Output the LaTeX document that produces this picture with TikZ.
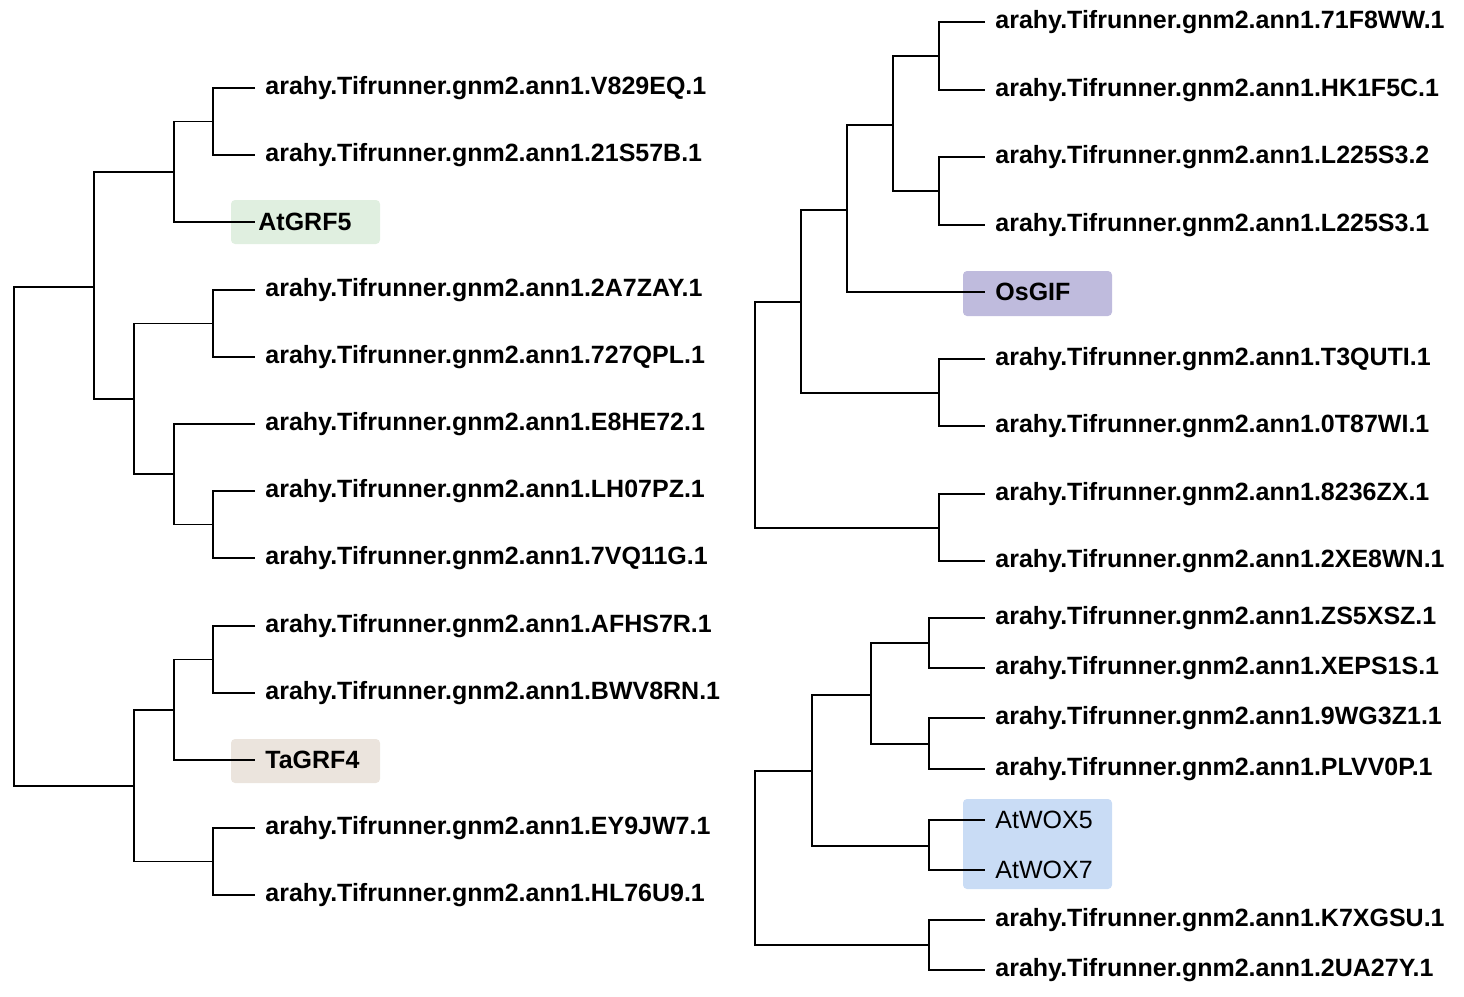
\documentclass[tikz,border=0pt]{standalone}
\usepackage{fontspec}
\setmainfont{Liberation Sans}
\usetikzlibrary{calc}
\definecolor{grfgreen}{HTML}{E0EFE0}
\definecolor{grfbrown}{HTML}{EBE4DD}
\definecolor{gifpurple}{HTML}{BFBBDD}
\definecolor{woxblue}{HTML}{C9DCF5}
\tikzset{
  leaf/.style={anchor=west, inner xsep=5pt, inner ysep=0pt, font=\fontsize{12.5}{14}\selectfont\bfseries},
  plainleaf/.style={leaf, font=\fontsize{12.5}{14}\selectfont},
  branch/.style={draw=black, line width=0.75pt},
  hibox/.style={rounded corners=2pt}
}
\begin{document}
\begin{tikzpicture}[x=0.5pt, y=-0.5pt]
  \useasboundingbox (0,0) rectangle (1464,997);
  % highlight boxes
  \fill[grfgreen, hibox] (231,200) rectangle (380,244);
  \fill[grfbrown, hibox] (231,739) rectangle (380,783);
  \fill[gifpurple, hibox] (963,271) rectangle (1112,316);
  \fill[woxblue, hibox] (963,799) rectangle (1112,889);

  % left tree leaves
  \foreach \name/\y/\txt in {V/88/V829EQ.1, S/155/21S57B.1, Z/290/2A7ZAY.1, Q/357/727QPL.1,
      E/424/E8HE72.1, L/491/LH07PZ.1, G/558/7VQ11G.1, A/626/AFHS7R.1, B/693/BWV8RN.1,
      Y/828/EY9JW7.1, H/895/HL76U9.1} {
    \node[leaf] (l\name) at (255,\y) {arahy.Tifrunner.gnm2.ann1.\txt};
  }
  \node[leaf, inner xsep=1.5pt] (lgrf5) at (255,222) {AtGRF5};
  \node[leaf] (lgrf4) at (255,760) {TaGRF4};

  % left tree inner nodes
  \coordinate (a1) at (213,121.5);
  \coordinate (a2) at (174,172);
  \coordinate (a3) at (213,323.5);
  \coordinate (a4) at (213,524.5);
  \coordinate (a5) at (174,474);
  \coordinate (a6) at (134,399);
  \coordinate (a7) at (94,287);
  \coordinate (a8) at (213,659.5);
  \coordinate (a9) at (174,710);
  \coordinate (a10) at (213,861.5);
  \coordinate (a11) at (134,786);
  \coordinate (a0) at (14,537);

  \draw[branch] (lV.west) -| (a1) |- (lS.west);
  \draw[branch] (a1) -| (a2) |- (lgrf5.west);
  \draw[branch] (lZ.west) -| (a3) |- (lQ.west);
  \draw[branch] (lL.west) -| (a4) |- (lG.west);
  \draw[branch] (lE.west) -| (a5) |- (a4);
  \draw[branch] (a3) -| (a6) |- (a5);
  \draw[branch] (a2) -| (a7) |- (a6);
  \draw[branch] (lA.west) -| (a8) |- (lB.west);
  \draw[branch] (a8) -| (a9) |- (lgrf4.west);
  \draw[branch] (lY.west) -| (a10) |- (lH.west);
  \draw[branch] (a9) -| (a11) |- (a10);
  \draw[branch] (a7) -| (a0) |- (a11);

  % right tree leaves
  \foreach \name/\y/\txt in {W/22/71F8WW.1, K/90/HK1F5C.1, Tb/157/L225S3.2, Ta/225/L225S3.1,
      U/359/T3QUTI.1, I/426/0T87WI.1, X/494/8236ZX.1, N/561/2XE8WN.1,
      Z/618/ZS5XSZ.1, P/668/XEPS1S.1, G/718/9WG3Z1.1, V/769/PLVV0P.1,
      K7/920/K7XGSU.1, U2/970/2UA27Y.1} {
    \node[leaf] (r\name) at (985,\y) {arahy.Tifrunner.gnm2.ann1.\txt};
  }
  \node[leaf] (rgif) at (985,292) {OsGIF};
  \node[plainleaf] (rwox5) at (985,820) {AtWOX5};
  \node[plainleaf] (rwox7) at (985,870) {AtWOX7};

  % right tree inner nodes
  \coordinate (b1) at (939,56);
  \coordinate (b2) at (939,191);
  \coordinate (b3) at (893,125);
  \coordinate (b4) at (847,210);
  \coordinate (b5) at (939,393);
  \coordinate (b6) at (801,302);
  \coordinate (b7) at (939,528);
  \coordinate (b8) at (755,415);
  \coordinate (c1) at (929,643);
  \coordinate (c2) at (929,744);
  \coordinate (c3) at (871,695);
  \coordinate (c4) at (929,846);
  \coordinate (c5) at (812,771);
  \coordinate (c6) at (929,945);
  \coordinate (c7) at (755,858);

  \draw[branch] (rW.west) -| (b1) |- (rK.west);
  \draw[branch] (rTb.west) -| (b2) |- (rTa.west);
  \draw[branch] (b1) -| (b3) |- (b2);
  \draw[branch] (b3) -| (b4) |- (rgif.west);
  \draw[branch] (rU.west) -| (b5) |- (rI.west);
  \draw[branch] (b4) -| (b6) |- (b5);
  \draw[branch] (rX.west) -| (b7) |- (rN.west);
  \draw[branch] (b6) -| (b8) |- (b7);
  \draw[branch] (rZ.west) -| (c1) |- (rP.west);
  \draw[branch] (rG.west) -| (c2) |- (rV.west);
  \draw[branch] (c1) -| (c3) |- (c2);
  \draw[branch] (rwox5.west) -| (c4) |- (rwox7.west);
  \draw[branch] (c3) -| (c5) |- (c4);
  \draw[branch] (rK7.west) -| (c6) |- (rU2.west);
  \draw[branch] (c5) -| (c7) |- (c6);
\end{tikzpicture}
\end{document}
